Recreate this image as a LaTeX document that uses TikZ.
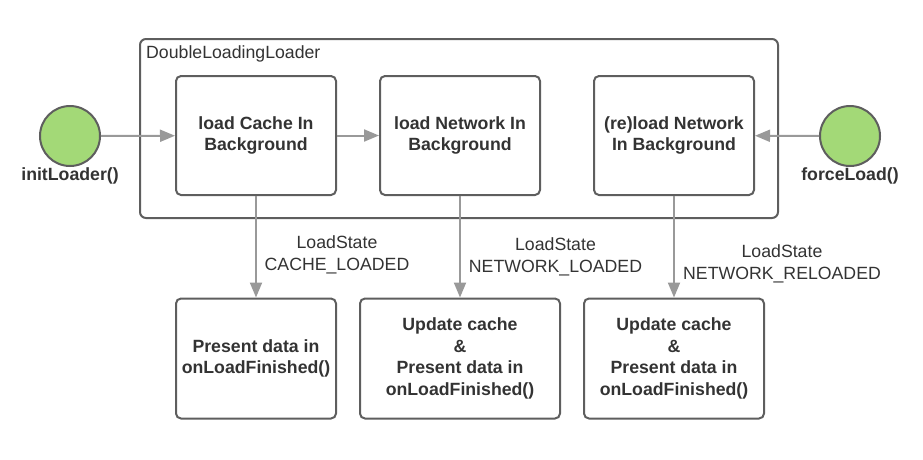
\documentclass[tikz,border=0pt]{standalone}
\usepackage{fontspec}
\setmainfont{Liberation Sans}
\usetikzlibrary{arrows.meta}
\definecolor{bordergray}{HTML}{5E5E5E}
\definecolor{arrowgray}{HTML}{999999}
\definecolor{textgray}{HTML}{333333}
\definecolor{startgreen}{HTML}{A3D977}
\begin{document}
\begin{tikzpicture}[x=1pt,y=-1pt,
  every node/.style={text=textgray},
  normaltext/.style={font=\fontsize{17.7}{21.5}\selectfont, align=center, inner sep=0pt},
  boldtext/.style={font=\fontsize{17.7}{21.5}\selectfont\bfseries, align=center, inner sep=0pt},
  statebox/.style={boldtext, draw=bordergray, line width=2pt, rounded corners=5pt, minimum width=160pt, minimum height=119pt},
  container/.style={draw=bordergray, line width=2pt, rounded corners=6pt, minimum width=638pt, minimum height=179pt, inner sep=0pt},
  startcircle/.style={draw=bordergray, fill=startgreen, line width=2pt, circle, minimum size=60pt, inner sep=0pt},
  flow/.style={draw=arrowgray, line width=2pt, -{Triangle[length=15pt,width=12pt]}}
]
\useasboundingbox (0,0) rectangle (923,459);
\node[container] (outer) at (459,128.5) {};
\node[normaltext, anchor=base west] (title) at (146,58) {DoubleLoadingLoader};

\node[statebox] (cache) at (256,135.5) {load Cache In\\Background};
\node[statebox] (network) at (460,135.5) {load Network In\\Background};
\node[statebox] (reload) at (674,135.5) {(re)load Network\\In Background};

\node[statebox, minimum height=120pt] (present) at (256,358.5) {Present data in\\onLoadFinished()};
\node[statebox, minimum height=120pt, minimum width=200pt] (update) at (460,358.5) {Update cache\\\&\\Present data in\\onLoadFinished()};
\node[statebox, minimum height=120pt, minimum width=180pt] (reupdate) at (674,358.5) {Update cache\\\&\\Present data in\\onLoadFinished()};

\node[startcircle] (init) at (70,136) {};
\node[boldtext] (initlbl) at (70,176) {initLoader()};
\node[startcircle] (force) at (850,136) {};
\node[boldtext] (forcelbl) at (850,176) {forceLoad()};

\draw[flow] (init) -- (cache);
\draw[flow] (cache) -- (network);
\draw[flow] (force) -- (reload);
\draw[flow] (cache) -- (present);
\draw[flow] (network) -- (update);
\draw[flow] (reload) -- (reupdate);

\node[normaltext] (lbl1) at (337,255) {LoadState\\CACHE\_LOADED};
\node[normaltext] (lbl2) at (555.5,257) {LoadState\\NETWORK\_LOADED};
\node[normaltext] (lbl3) at (782,264) {LoadState\\NETWORK\_RELOADED};
\end{tikzpicture}
\end{document}
